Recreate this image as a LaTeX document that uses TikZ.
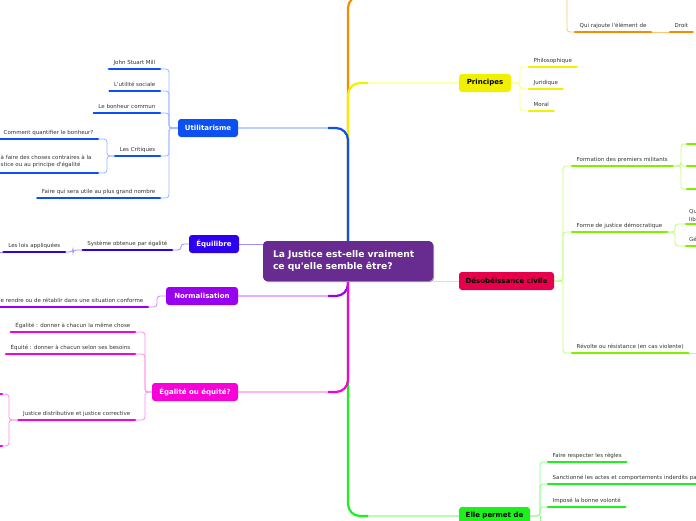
\documentclass[tikz,border=0pt]{standalone}
\usepackage{fontspec}
\setmainfont{DejaVu Sans}
\usetikzlibrary{calc}
\newcommand\aq{\textquotesingle}
\definecolor{cCen}{HTML}{682B8F}
\definecolor{txt}{HTML}{333333}
\definecolor{cOr}{HTML}{F58C00}\definecolor{cOrL}{HTML}{FFC46E}
\definecolor{cYe}{HTML}{F0F000}\definecolor{cYeL}{HTML}{FFFF80}
\definecolor{cUt}{HTML}{0D50F2}\definecolor{cUtL}{HTML}{96B4FF}
\definecolor{cEq}{HTML}{2E00F0}\definecolor{cEqL}{HTML}{A28CFF}
\definecolor{cNo}{HTML}{9A00F0}\definecolor{cNoL}{HTML}{CF85FF}
\definecolor{cEg}{HTML}{F800D8}\definecolor{cEgL}{HTML}{FF8CF0}
\definecolor{cDe}{HTML}{E6004C}
\definecolor{cLi}{HTML}{7EF000}\definecolor{cLiL}{HTML}{BDFF7A}
\definecolor{cGr}{HTML}{1EF01E}\definecolor{cGrL}{HTML}{8CFF8C}
\pgfdeclarelayer{bg}\pgfsetlayers{bg,main}
\tikzset{
 mn/.style={rounded corners=3pt, minimum height=18, inner sep=0pt, font=\bfseries\fontsize{7}{8}\selectfont, text=white},
 leaf/.style={inner xsep=4.5pt, inner ysep=3pt, text height=4.1pt, text depth=1.2pt, font=\fontsize{5.5}{6.6}\selectfont, text=txt},
 frag/.style={inner sep=0pt, anchor=base west, font=\fontsize{5.5}{6.6}\selectfont, text=txt},
 ul/.style={line width=2.4pt, line cap=round},
 cn/.style={line width=0.8pt, rounded corners=3pt},
 brl/.style={line width=1.1pt, rounded corners=12pt},
 brs/.style={line width=2.2pt, rounded corners=12pt},
}
\begin{document}
\begin{tikzpicture}[x=1pt,y=-1pt]
\useasboundingbox (0,0) rectangle (696,520);
\clip (0,0) rectangle (696,520);
% main nodes
\node[rounded corners=4pt, fill=black!40, minimum width=170, minimum height=40] (censh) at (349,262) {};
\node[mn, fill=cCen, rounded corners=4pt, minimum width=170, minimum height=40, align=left, text width=150pt, font=\bfseries\fontsize{9.2}{11.5}\selectfont] (cen) at (348,261) {La Justice est-elle vraiment\\ce qu\aq elle semble être?};
\node[mn, fill=cUt, minimum width=60] (util) at (208,128) {Utilitarisme};
\node[mn, fill=cEq, minimum width=50] (equil) at (214,244) {Équilibre};
\node[mn, fill=cNo, minimum width=72] (norm) at (202,296) {Normalisation};
\node[mn, fill=cEg, minimum width=86] (ego) at (195,392) {Égalité ou équité?};
\node[mn, fill=cYe, text=black, minimum width=52] (princ) at (485,83) {Principes};
\node[mn, fill=cDe, text=black, minimum width=95] (des) at (506.5,281) {Désobéissance civile};
\node[mn, fill=cGr, text=black, minimum width=71] (ep) at (494.5,516) {Elle permet de};
% leaves left
\node[leaf, anchor=south east] (jsm) at (160,69) {John Stuart Mill};
\node[leaf, anchor=south east] (us) at (160,91) {L\aq utilité sociale};
\node[leaf, anchor=south east] (bc) at (160,113) {Le bonheur commun};
\node[leaf, anchor=south east] (crit) at (160,156) {Les Critiques};
\node[leaf, anchor=south east] (fq) at (160,198) {Faire qui sera utile au plus grand nombre};
\node[leaf, anchor=south east] (quant) at (98,139) {Comment quantifier le bonheur?};
\node[frag] (fa1) at (0.5,159) {à faire des choses contraires à la};
\node[frag] (fa2) at (0.5,166) {stice ou au principe d\aq égalité};
\coordinate (fa) at (98,173); \coordinate (fa0) at (-5,173);
\node[leaf, anchor=south east] (sys) at (172,250) {Système obtenue par égalité};
\node[leaf, anchor=south east] (lois) at (65,252) {Les lois appliquées};
\coordinate (loisx) at (-5,252);
\node[leaf, anchor=south east] (nc) at (148,307) {e rendre ou de rétablir dans une situation conforme};
\node[leaf, anchor=south east] (egal) at (135,332) {Égalité : donner à chacun la même chose};
\node[leaf, anchor=south east] (equi) at (135,354) {Équité : donner à chacun selon ses besoins};
\node[leaf, anchor=south east] (jd) at (135,420) {Justice distributive et justice corrective};
\coordinate (jd1) at (2,394); \coordinate (jd2) at (2,446);
\coordinate (jd1x) at (-10,394); \coordinate (jd2x) at (-10,446);
% leaves right
\node[leaf, anchor=south west] (phil) at (529,67) {Philosophique};
\node[leaf, anchor=south west] (jur) at (529,89) {Juridique};
\node[leaf, anchor=south west] (mor) at (529,111) {Moral};
\node[leaf, anchor=south west] (form) at (572,166) {Formation des premiers militants};
\node[leaf, anchor=south west] (fjd) at (572,232) {Forme de justice démocratique};
\node[leaf, anchor=south west] (rev) at (572,353) {Révolte ou résistance (en cas violente)};
\coordinate (f1) at (687,144); \coordinate (f2) at (687,166); \coordinate (f3) at (687,189);
\coordinate (f1x) at (705,144); \coordinate (f2x) at (705,166); \coordinate (f3x) at (705,189);
\coordinate (g1) at (686,224); \coordinate (g2) at (686,246);
\coordinate (g1x) at (705,224); \coordinate (g2x) at (705,246);
\node[frag] (q1) at (689,213) {Qu};
\node[frag] (q2) at (689,221) {lib};
\node[frag] (q3) at (689,241) {Gé};
\coordinate (revx) at (705,353);
\node[leaf, anchor=south west] (frl) at (548,462) {Faire respecter les règles};
\node[leaf, anchor=south west] (sanc) at (548,484) {Sanctionné les actes et comportements inderdits pa};
\node[leaf, anchor=south west] (imp) at (548,507) {Imposé la bonne volonté};
\coordinate (sancx) at (705,484);
\node[leaf, anchor=south west] (qui) at (575,32) {Qui rajoute l\aq élément de};
\node[leaf, anchor=south west] (droit) at (670,32) {Droit};
% underlines
\foreach \n/\c in {jsm/cUt,us/cUt,bc/cUt,crit/cUt,fq/cUt,quant/cUt,sys/cEq,lois/cEq,nc/cNo,egal/cEg,equi/cEg,jd/cEg,phil/cYe,jur/cYe,mor/cYe,form/cLi,fjd/cLi,rev/cLi,frl/cGr,imp/cGr,qui/cOr,droit/cOr}
  \draw[ul, \c] (\n.south west) -- (\n.south east);
\draw[ul, cUt] (fa0) -- (fa);
\draw[ul, cEg] (jd1x) -- (jd1); \draw[ul, cEg] (jd2x) -- (jd2);
\draw[ul, cLi] (f1) -- (f1x); \draw[ul, cLi] (f2) -- (f2x); \draw[ul, cLi] (f3) -- (f3x);
\draw[ul, cLi] (g1) -- (g1x); \draw[ul, cLi] (g2) -- (g2x);
\draw[ul, cGr] (sanc.south west) -- (sancx);
% connectors
\begin{pgfonlayer}{bg}
\coordinate (orTop) at (440,-4);
\draw[brl, cOrL] (cen.center) |- (orTop);
\draw[brs, cOr] (cen.center) |- ($(cen.center |- orTop)+(20,0)$);
\draw[brl, cYeL] (cen.center) |- (princ.west);
\draw[brs, cYe] (cen.center) |- ($(cen.center |- princ.west)+(20,0)$);
\draw[brl, cUtL] (cen.center) |- (util.east);
\draw[brs, cUt] (cen.center) |- ($(cen.center |- util.east)+(-20,0)$);
\draw[brl, cGrL] (cen.center) |- (ep.west);
\draw[brs, cGr] (cen.center) |- ($(cen.center |- ep.west)+(20,0)$);
\draw[brl, cNoL] (cen.center) |- (norm.east);
\draw[brs, cNo] (cen.center) |- ($(cen.center |- norm.east)+(-20,0)$);
\draw[brl, cEgL] (cen.center) |- (ego.east);
\draw[brs, cEg] (cen.center) |- ($(cen.center |- ego.east)+(-20,0)$);
\draw[line width=1pt, cEqL] (cen.west |- equil.east) -- (equil.east);
\draw[line width=1pt, cLiL] (cen.east |- des.west) -- (des.west);
% children
\coordinate (uj) at (169,128);
\foreach \n in {jsm,us,bc,crit,fq} \draw[cn, cUtL] (util.west) -- (uj) |- (\n.south east);
\coordinate (cj) at (107,156);
\draw[cn, cUtL] (crit.south west) -- (cj) |- (quant.south east);
\draw[cn, cUtL] (crit.south west) -- (cj) |- (fa);
\coordinate (ej) at (181,244);
\draw[cn, cEqL] (equil.west) -- (ej) |- (sys.south east);
\coordinate (sj) at (73,250);
\draw[cn, cEqL] (sys.south west) -- (sj) |- (lois.south east);
\draw[cn, cEqL] (lois.south west) -- (loisx);
\coordinate (nj) at (157,296);
\draw[cn, cNoL] (norm.west) -- (nj) |- (nc.south east);
\coordinate (gj) at (145,392);
\foreach \n in {egal,equi,jd} \draw[cn, cEgL] (ego.west) -- (gj) |- (\n.south east);
\coordinate (dj) at (9,420);
\draw[cn, cEgL] (jd.south west) -- (dj) |- (jd1);
\draw[cn, cEgL] (jd.south west) -- (dj) |- (jd2);
\coordinate (pj) at (520,83);
\foreach \n in {phil,jur,mor} \draw[cn, cYeL] (princ.east) -- (pj) |- (\n.south west);
\coordinate (desj) at (563,281);
\foreach \n in {form,fjd,rev} \draw[cn, cLiL] (des.east) -- (desj) |- (\n.south west);
\coordinate (fj) at (681,166);
\foreach \n in {f1,f2,f3} \draw[cn, cLiL] (form.south east) -- (fj) |- (\n);
\coordinate (fjj) at (675,232);
\foreach \n in {g1,g2} \draw[cn, cLiL] (fjd.south east) -- (fjj) |- (\n);
\draw[cn, cLiL] (rev.south east) -- (revx);
\coordinate (epj) at (540,516); \coordinate (epd) at (540,530);
\foreach \n in {frl,sanc,imp} \draw[cn, cGrL] (ep.east) -- (epj) |- (\n.south west);
\draw[cn, cGrL] (epj) -- (epd);
\coordinate (oj) at (567,-10);
\draw[cn, cOrL] (oj) |- (qui.south west);
\draw[cn, cOrL] (qui.south east) -- (droit.south west);
\end{pgfonlayer}
\end{tikzpicture}
\end{document}
